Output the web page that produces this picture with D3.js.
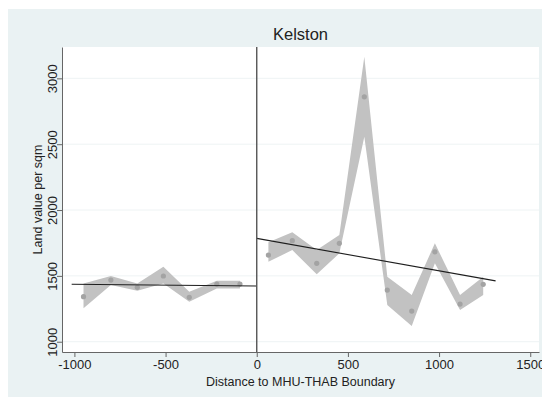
<!DOCTYPE html>
<html>
<head>
<meta charset="utf-8">
<script src="https://cdn.jsdelivr.net/npm/d3@7"></script>
<style>
    body { margin: 0; background: #fff; }
    text { font-family: "Liberation Sans", Arial, sans-serif; fill: #222; }
</style>
</head>
<body>
<script>
// binned means, 95% band and linear fits either side of the boundary
var leftX  = [-950, -800, -655, -512, -370, -219, -92];
var leftY  = [1342, 1468, 1413, 1499, 1337, 1438, 1438];
var leftLo = [1254, 1430, 1387, 1443, 1304, 1405, 1405];
var leftHi = [1443, 1499, 1443, 1570, 1380, 1463, 1463];

var rightX  = [64, 195, 329, 453, 590, 716, 850, 977, 1115, 1242];
var rightY  = [1658, 1767, 1595, 1747, 2860, 1392, 1233, 1683, 1286, 1436];
var rightLo = [1607, 1696, 1512, 1671, 2557, 1279, 1119, 1595, 1241, 1355];
var rightHi = [1755, 1831, 1696, 1810, 3164, 1494, 1355, 1747, 1355, 1494];

var leftFitX = [-1015, 0],  leftFitY = [1436, 1423];
var rightFitX = [0, 1310],  rightFitY = [1785, 1462];

var xTicks = [-1000, -500, 0, 500, 1000, 1500];
var yTicks = [1000, 1500, 2000, 2500, 3000];

var chartTitle = "Kelston",
    xTitle = "Distance to MHU-THAB Boundary",
    yTitle = "Land value per sqm";

drawChart();

function drawChart() {
    var width = 542,
        height = 400;

    var plot = { left: 62, right: 539, top: 47, bottom: 352 };

    var svg = d3.select("body")
        .append("svg")
        .attr("width", width)
        .attr("height", height);

    // graph region background
    svg.append("rect")
        .attr("x", 8).attr("y", 9)
        .attr("width", width - 8).attr("height", 388)
        .attr("fill", "#eaf2f3");

    // plot region
    svg.append("rect")
        .attr("x", plot.left).attr("y", plot.top)
        .attr("width", plot.right - plot.left).attr("height", plot.bottom - plot.top)
        .attr("fill", "#fff");

    var x = d3.scaleLinear()
        .domain([-1068, 1548])
        .range([plot.left, plot.right]);

    var y = d3.scaleLinear()
        .domain([922, 3238])
        .range([plot.bottom, plot.top]);

    // gridlines
    svg.append("g")
        .selectAll("line")
        .data(yTicks)
        .enter()
        .append("line")
        .attr("x1", plot.left).attr("x2", plot.right)
        .attr("y1", function(d){ return y(d); })
        .attr("y2", function(d){ return y(d); })
        .attr("stroke", "#eef3f4")
        .attr("stroke-width", 1);

    var left = leftX.map(function(d, i){
        return { x: d, y: leftY[i], lo: leftLo[i], hi: leftHi[i] };
    });
    var right = rightX.map(function(d, i){
        return { x: d, y: rightY[i], lo: rightLo[i], hi: rightHi[i] };
    });

    var band = d3.area()
        .x(function(d){ return x(d.x); })
        .y0(function(d){ return y(d.lo); })
        .y1(function(d){ return y(d.hi); });

    [left, right].forEach(function(seg){
        svg.append("path")
            .datum(seg)
            .attr("d", band)
            .attr("fill", "#c2c2c2");

        svg.append("g")
            .selectAll("circle")
            .data(seg)
            .enter()
            .append("circle")
            .attr("cx", function(d){ return x(d.x); })
            .attr("cy", function(d){ return y(d.y); })
            .attr("r", 2.6)
            .attr("fill", "#a3a3a3");
    });

    // linear fits
    var line = d3.line()
        .x(function(d){ return x(d[0]); })
        .y(function(d){ return y(d[1]); });

    [[leftFitX, leftFitY], [rightFitX, rightFitY]].forEach(function(f){
        svg.append("path")
            .datum(d3.zip(f[0], f[1]))
            .attr("d", line)
            .attr("fill", "none")
            .attr("stroke", "#1e1e1e")
            .attr("stroke-width", 1.1);
    });

    // boundary line
    svg.append("line")
        .attr("x1", x(0)).attr("x2", x(0))
        .attr("y1", plot.top).attr("y2", plot.bottom)
        .attr("stroke", "#555")
        .attr("stroke-width", 1.4);

    // axes (plain integer labels, hyphen minus)
    var fmt = function(d){ return String(d); };

    var xAxis = svg.append("g")
        .attr("transform", "translate(0," + plot.bottom + ")")
        .call(d3.axisBottom(x).tickValues(xTicks).tickFormat(fmt)
            .tickSize(5).tickPadding(3).tickSizeOuter(0));

    var yAxis = svg.append("g")
        .attr("transform", "translate(" + plot.left + ",0)")
        .call(d3.axisLeft(y).tickValues(yTicks).tickFormat(fmt)
            .tickSize(5).tickPadding(3).tickSizeOuter(0));

    [xAxis, yAxis].forEach(function(ax){
        ax.select(".domain").attr("stroke", "#666");
        ax.selectAll(".tick line").attr("stroke", "#666");
        ax.selectAll(".tick text")
            .style("font-family", "Liberation Sans, Arial, sans-serif")
            .style("font-size", "13px")
            .attr("fill", "#222");
    });

    yAxis.selectAll(".tick text")
        .attr("text-anchor", "middle")
        .attr("x", 0).attr("dy", 0)
        .attr("transform", "translate(-5,0) rotate(-90)");

    // titles
    svg.append("text")
        .attr("x", (plot.left + plot.right) / 2)
        .attr("y", 40)
        .attr("text-anchor", "middle")
        .style("font-size", "16.5px")
        .text(chartTitle);

    svg.append("text")
        .attr("x", (plot.left + plot.right) / 2)
        .attr("y", 386)
        .attr("text-anchor", "middle")
        .style("font-size", "12.5px")
        .text(xTitle);

    svg.append("text")
        .attr("transform", "translate(42," + ((plot.top + plot.bottom) / 2) + ") rotate(-90)")
        .attr("text-anchor", "middle")
        .style("font-size", "12.5px")
        .text(yTitle);
}
</script>
</body>
</html>
